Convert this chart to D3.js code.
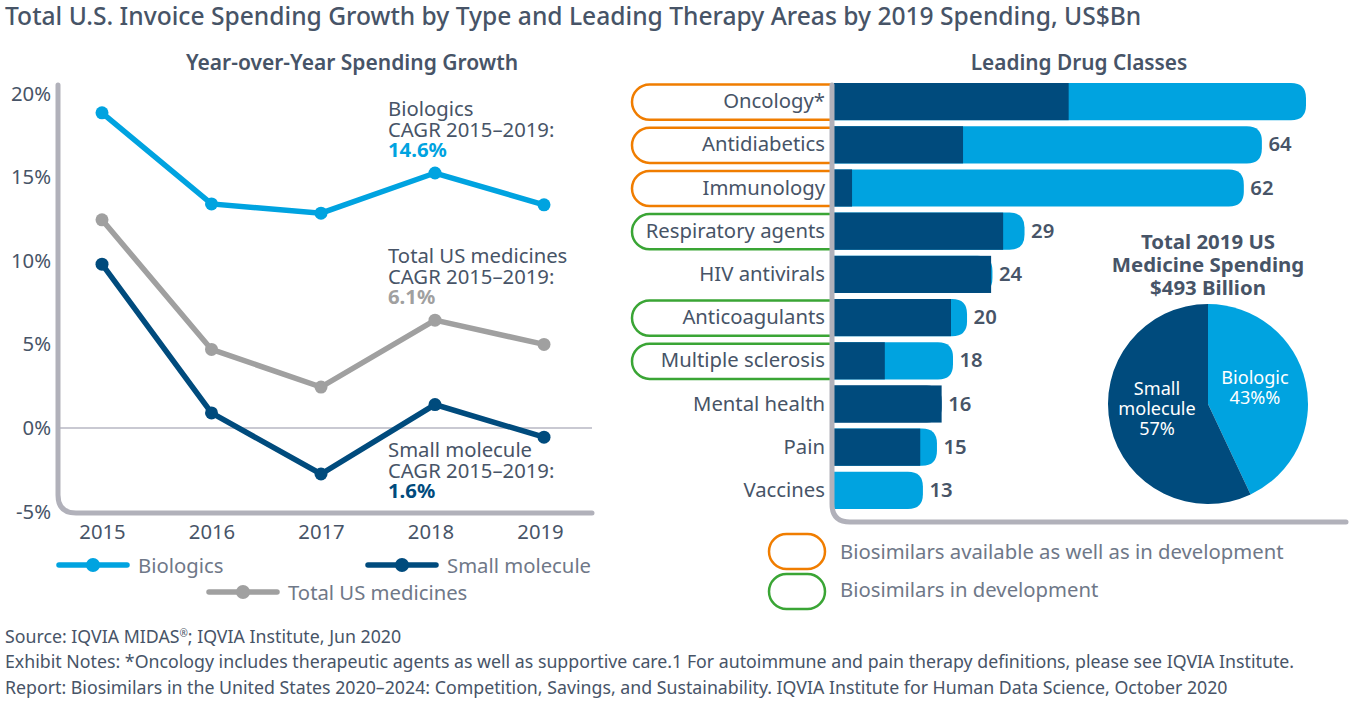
<!DOCTYPE html>
<html>
<head>
<meta charset="utf-8">
<script src="https://cdn.jsdelivr.net/npm/d3@7"></script>
<style>
  html, body { margin: 0; padding: 0; background: #fff; }
  svg { display: block; }
  text { font-family: "Noto Sans", sans-serif; }
</style>
</head>
<body>
<svg id="chart" width="1352" height="705"></svg>
<script>
// line chart data
const years = [2015, 2016, 2017, 2018, 2019];
const biologics = [18.85, 13.4, 12.85, 15.25, 13.35];
const totalUS = [12.45, 4.7, 2.45, 6.45, 5.0];
const smallMolecule = [9.8, 0.9, -2.75, 1.4, -0.55];
const yTicks = [20, 15, 10, 5, 0, -5];

// bar chart data
const classes = ['Oncology*', 'Antidiabetics', 'Immunology', 'Respiratory agents', 'HIV antivirals',
  'Anticoagulants', 'Multiple sclerosis', 'Mental health', 'Pain', 'Vaccines'];
const classSmall = [35.1, 19.3, 2.7, 25.3, 23.5, 17.5, 7.6, 16.1, 12.9, 0];
const classBiologic = [35.5, 44.7, 58.6, 3.2, 0.2, 2.4, 10.2, 0, 2.5, 13.3];
const classLabels = [null, 64, 62, 29, 24, 20, 18, 16, 15, 13];
const classPill = ['avail', 'avail', 'avail', 'dev', null, 'dev', 'dev', null, null, null];

// pie data
const pieNames = ['Biologic', 'Small molecule'];
const pieValues = [43, 57];

const BLUE = '#00a3e0', NAVY = '#004b7d', GRAY = '#a0a0a0', AXIS = '#b1b1ba';
const TEXT = '#475467', SOFT = '#6f7888', ORANGE = '#f07d00', GREEN = '#3aa535';
const BODY = 20.3;

const svg = d3.select('#chart');

function addText(x, y, str, size, fill, weight, anchor) {
  return svg.append('text').attr('x', x).attr('y', y).text(str)
    .attr('font-size', size).attr('fill', fill)
    .attr('font-weight', weight || 400).attr('text-anchor', anchor || 'start');
}

addText(5, 25, 'Total U.S. Invoice Spending Growth by Type and Leading Therapy Areas by 2019 Spending, US$Bn', 24.6, TEXT, 500);
addText(352, 70, 'Year-over-Year Spending Growth', 21, TEXT, 600, 'middle');
addText(1079, 70, 'Leading Drug Classes', 20.8, TEXT, 600, 'middle');

// ---- line chart ----
const y = d3.scaleLinear().domain([-5, 20]).range([511.6, 93.6]);
const xAxisScale = d3.scalePoint().domain(years).range([102, 540]);
// the markers in the source sit a little right of the labels for the last two years
const xPoint = d3.scaleLinear().domain([2015, 2017, 2018, 2019]).range([102, 321, 435, 544]);

svg.append('line').attr('x1', xPoint(2015) - 42).attr('x2', 592)
  .attr('y1', y(0)).attr('y2', y(0))
  .attr('stroke', '#c9c9d2').attr('stroke-width', 2);

svg.append('path')
  .attr('d', 'M58,85 V495 Q58,513 76,513 H592')
  .attr('fill', 'none').attr('stroke', AXIS).attr('stroke-width', 5).attr('stroke-linecap', 'round');

const yAxis = svg.append('g').attr('transform', 'translate(51,0)')
  .call(d3.axisLeft(y).tickValues(yTicks).tickSize(0).tickPadding(0).tickFormat((d) => d + '%'));
yAxis.select('.domain').remove();
yAxis.selectAll('text').attr('font-size', BODY).attr('fill', TEXT).style('font-family', '"Noto Sans", sans-serif');

const xAxis = svg.append('g').attr('transform', 'translate(0,524.5)')
  .call(d3.axisBottom(xAxisScale).tickSize(0).tickPadding(0).tickFormat(d3.format('d')));
xAxis.select('.domain').remove();
xAxis.selectAll('text').attr('font-size', BODY).attr('fill', TEXT).style('font-family', '"Noto Sans", sans-serif');

const lineGen = d3.line().x((d, i) => xPoint(years[i])).y((d) => y(d));
const lineSeries = [
  { values: totalUS, color: GRAY },
  { values: smallMolecule, color: NAVY },
  { values: biologics, color: BLUE },
];
lineSeries.forEach((s) => {
  svg.append('path').attr('d', lineGen(s.values))
    .attr('fill', 'none').attr('stroke', s.color).attr('stroke-width', 5.5);
  svg.append('g').selectAll('circle').data(s.values).join('circle')
    .attr('cx', (d, i) => xPoint(years[i])).attr('cy', (d) => y(d))
    .attr('r', 6.5).attr('fill', s.color);
});

// CAGR notes
[[116, 'Biologics', '14.6%', BLUE], [263, 'Total US medicines', '6.1%', GRAY], [457, 'Small molecule', '1.6%', NAVY]]
  .forEach(([top, name, pct, color]) => {
    addText(388, top, name, BODY, TEXT);
    addText(388, top + 20.5, 'CAGR 2015–2019:', BODY, TEXT);
    addText(388, top + 41, pct, BODY, color, 700);
  });

// line legend
[[57, 565, 'Biologics', BLUE], [366, 565, 'Small molecule', NAVY], [207, 592, 'Total US medicines', GRAY]]
  .forEach(([lx, ly, name, color]) => {
    svg.append('line').attr('x1', lx + 2).attr('x2', lx + 70).attr('y1', ly).attr('y2', ly)
      .attr('stroke', color).attr('stroke-width', 5.5).attr('stroke-linecap', 'round');
    svg.append('circle').attr('cx', lx + 36).attr('cy', ly).attr('r', 7).attr('fill', color);
    addText(lx + 81, ly + 8, name, BODY, SOFT);
  });

// ---- bar chart ----
const barLeft = 834;
const xBar = d3.scaleLinear().domain([0, 70.6]).range([barLeft, 1306]);
const yBar = d3.scaleBand().domain(classes).range([80, 512]).paddingInner(0.14).paddingOuter(0.07);

function roundRight(x0, x1, top, h, r) {
  const rr = Math.min(r, x1 - x0);
  return `M${x0},${top} H${x1 - rr} Q${x1},${top} ${x1},${top + rr} V${top + h - rr} Q${x1},${top + h} ${x1 - rr},${top + h} H${x0} Z`;
}

function pillPath(x0, x1, top, h) {
  const r = h / 2;
  return `M${x1},${top} H${x0 + r} A${r},${r} 0 0 0 ${x0 + r},${top + h} H${x1}`;
}
const pillColor = { avail: ORANGE, dev: GREEN };

svg.append('g').selectAll('path').data(classes.filter((c, i) => classPill[i])).join('path')
  .attr('d', (c) => pillPath(632, 832, yBar(c) + 1.5, yBar.bandwidth() - 2))
  .attr('fill', 'none').attr('stroke-width', 2.5)
  .attr('stroke', (c) => pillColor[classPill[classes.indexOf(c)]]);

const rows = svg.append('g').selectAll('g').data(classes).join('g');
rows.append('path')
  .attr('d', (c, i) => roundRight(barLeft, xBar(classSmall[i] + classBiologic[i]), yBar(c), yBar.bandwidth(), 15))
  .attr('fill', (c, i) => (classBiologic[i] > 0 ? BLUE : NAVY));
rows.append('rect')
  .attr('x', barLeft).attr('y', (c) => yBar(c))
  .attr('width', (c, i) => xBar(classSmall[i]) - barLeft)
  .attr('height', yBar.bandwidth()).attr('fill', NAVY);
rows.append('text')
  .attr('x', 825).attr('y', (c) => yBar(c) + yBar.bandwidth() / 2 + 6.5)
  .attr('text-anchor', 'end').attr('font-size', BODY).attr('fill', TEXT).text((c) => c);
rows.append('text')
  .attr('x', (c, i) => xBar(classSmall[i] + classBiologic[i]) + 6.5)
  .attr('y', (c) => yBar(c) + yBar.bandwidth() / 2 + 6.5)
  .attr('font-size', BODY).attr('font-weight', 600).attr('fill', TEXT)
  .text((c, i) => classLabels[i]);

svg.append('path')
  .attr('d', 'M832,85 V504 Q832,522 850,522 H1346')
  .attr('fill', 'none').attr('stroke', AXIS).attr('stroke-width', 5).attr('stroke-linecap', 'round');

// ---- pie ----
['Total 2019 US', 'Medicine Spending', '$493 Billion'].forEach((t, i) => {
  addText(1208, 249 + i * 23, t, 20.4, TEXT, 700, 'middle');
});
const pieGroup = svg.append('g').attr('transform', 'translate(1208,404)');
const pieArcs = d3.pie().sort(null)(pieValues);
const arc = d3.arc().innerRadius(0).outerRadius(100);
pieGroup.selectAll('path').data(pieArcs).join('path')
  .attr('d', arc).attr('fill', (d, i) => (i === 0 ? BLUE : NAVY));
[[47, -20, pieNames[0]], [47, 0, pieValues[0] + '%%'], [-51, -9, 'Small'], [-51, 11, 'molecule'], [-51, 31, pieValues[1] + '%']]
  .forEach(([dx, dy, t]) => {
    pieGroup.append('text').attr('x', dx).attr('y', dy).attr('text-anchor', 'middle')
      .attr('font-size', 18.1).attr('fill', '#fff').text(t);
  });

// biosimilar legend
[[534, 559, ORANGE, 'Biosimilars available as well as in development'], [574, 597, GREEN, 'Biosimilars in development']]
  .forEach(([top, base, color, t]) => {
    svg.append('rect').attr('x', 769).attr('y', top).attr('width', 56).attr('height', 35)
      .attr('rx', 17.5).attr('fill', 'none').attr('stroke', color).attr('stroke-width', 2.5);
    addText(840, base, t, BODY, SOFT);
  });

// footer
const source = addText(5, 643, 'Source: IQVIA MIDAS', 17.75, TEXT);
source.append('tspan').attr('font-size', 10).attr('dy', -6).text('®');
source.append('tspan').attr('dy', 6).text('; IQVIA Institute, Jun 2020');
addText(5, 668, 'Exhibit Notes: *Oncology includes therapeutic agents as well as supportive care.1 For autoimmune and pain therapy definitions, please see IQVIA Institute.', 17.75, TEXT);
addText(5, 694, 'Report: Biosimilars in the United States 2020–2024: Competition, Savings, and Sustainability. IQVIA Institute for Human Data Science, October 2020', 17.75, TEXT);
</script>
</body>
</html>
